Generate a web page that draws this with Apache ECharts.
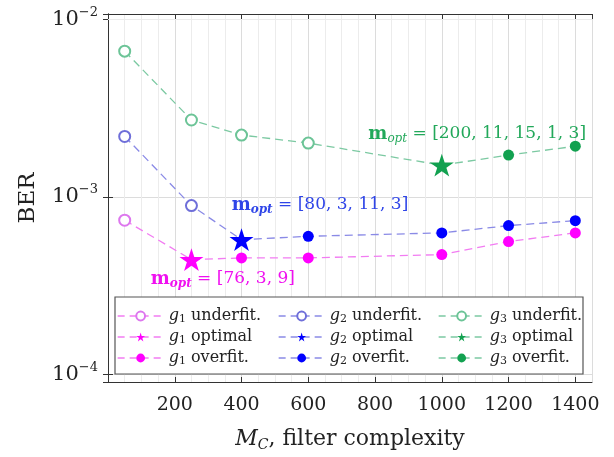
<!DOCTYPE html>
<html>
<head>
<meta charset="utf-8">
<script src="https://cdn.jsdelivr.net/npm/echarts@6/dist/echarts.min.js"></script>
<style>
  html, body { margin: 0; padding: 0; background: #fff; }
  #chart { width: 614px; height: 457px; }
</style>
</head>
<body>
<div id="chart"></div>
<script>
// filter complexity M_C
var mc = [50, 250, 400, 600, 1000, 1200, 1400];
// BER per output group
var berG1 = [7.4e-4, 4.44e-4, 4.54e-4, 4.54e-4, 4.74e-4, 5.61e-4, 6.28e-4];
var berG2 = [2.19e-3, 8.94e-4, 5.75e-4, 6.01e-4, 6.28e-4, 6.90e-4, 7.36e-4];
var berG3 = [6.61e-3, 2.71e-3, 2.23e-3, 2.01e-3, 1.51e-3, 1.72e-3, 1.93e-3];
// index of the optimal point in each group
var optIdx = [1, 2, 4];
var groupNames = ['g1', 'g2', 'g3'];
var optLabels = ['[76, 3, 9]', '[80, 3, 11, 3]', '[200, 11, 15, 1, 3]'];
var yMinor = [2e-4, 3e-4, 4e-4, 5e-4, 6e-4, 7e-4, 8e-4, 9e-4,
              2e-3, 3e-3, 4e-3, 5e-3, 6e-3, 7e-3, 8e-3, 9e-3];

var FONT = 'DejaVu Serif';
var STAR = 'path://M0,-1 L0.2245,-0.309 L0.951,-0.309 L0.363,0.118 L0.588,0.809 L0,0.382 L-0.588,0.809 L-0.363,0.118 L-0.951,-0.309 L-0.2245,-0.309 Z';

var lineCol = ['#f27cf2', '#8a8ae6', '#7cc9a2'];
var hollowCol = ['#dd77ee', '#6f6fd9', '#6cc497'];
var solidCol = ['#ff00ff', '#0000ff', '#12a150'];
var textCol = ['#f010f0', '#2f45e8', '#22a85a'];

var allBer = [berG1, berG2, berG3];
function pairs(ys, a, b) {
    var out = [];
    for (var i = a; i < b; i++) out.push([mc[i], ys[i]]);
    return out;
}

var annCoord = [[344, 3.46e-4], [635, 9.02e-4], [1106, 2.26e-3]];

var series = [];
allBer.forEach(function (ys, g) {
    var k = optIdx[g];
    series.push({
        name: groupNames[g] + ' line',
        type: 'line',
        data: pairs(ys, 0, ys.length),
        symbol: 'none',
        silent: true,
        z: 2,
        lineStyle: { color: lineCol[g], width: 1.3, type: [8, 5] },
        markPoint: {
            symbol: 'circle',
            symbolSize: 0,
            silent: true,
            label: {
                show: true,
                position: 'inside',
                color: textCol[g],
                fontFamily: FONT,
                fontSize: 17,
                formatter: '{m|m}{s|opt}{t| = ' + optLabels[g] + '}',
                rich: {
                    m: { fontWeight: 'bold', fontSize: 18, fontFamily: FONT, color: textCol[g] },
                    s: { fontStyle: 'italic', fontWeight: g < 2 ? 'bold' : 'normal', fontSize: 12, fontFamily: FONT, color: textCol[g], padding: [10, 0, 0, 0] },
                    t: { fontSize: 17, fontFamily: FONT, color: textCol[g] }
                }
            },
            data: [{ coord: annCoord[g] }]
        }
    });
    series.push({
        name: groupNames[g] + ' underfit.',
        type: 'line',
        data: pairs(ys, 0, k),
        symbol: 'emptyCircle',
        symbolSize: 11,
        z: 3,
        itemStyle: { color: hollowCol[g], borderWidth: 1.3 },
        lineStyle: { color: lineCol[g], width: 0, opacity: 0 }
    });
    series.push({
        name: groupNames[g] + ' optimal',
        type: 'line',
        data: pairs(ys, k, k + 1),
        symbol: STAR,
        symbolSize: 24,
        symbolKeepAspect: true,
        z: 4,
        itemStyle: { color: solidCol[g] },
        lineStyle: { color: lineCol[g], width: 0, opacity: 0 }
    });
    series.push({
        name: groupNames[g] + ' overfit.',
        type: 'line',
        data: pairs(ys, k + 1, ys.length),
        symbol: 'circle',
        symbolSize: 11,
        z: 3,
        itemStyle: { color: solidCol[g] },
        lineStyle: { color: lineCol[g], width: 0, opacity: 0 }
    });
});

// minor log grid lines
series.push({
    name: 'minor grid',
    type: 'line',
    data: [],
    silent: true,
    z: 0,
    markLine: {
        silent: true,
        symbol: ['none', 'none'],
        label: { show: false },
        lineStyle: { color: '#ececec', width: 1, type: 'solid' },
        data: yMinor.map(function (v) { return { yAxis: v }; })
    }
});

function legendFor(g, left) {
    return {
        orient: 'vertical',
        left: left,
        top: 303,
        itemWidth: 46,
        itemHeight: 11,
        itemGap: 4,
        z: 6,
        data: [groupNames[g] + ' underfit.', groupNames[g] + ' optimal', groupNames[g] + ' overfit.'],
        lineStyle: { opacity: 1, width: 1.3, type: [7, 5] },
        formatter: function (name) {
            return '{i|g}{s|' + name.charAt(1) + '}' + name.slice(2);
        },
        textStyle: {
            fontFamily: FONT,
            fontSize: 16,
            color: '#222',
            rich: {
                i: { fontStyle: 'italic', fontFamily: FONT, fontSize: 16, color: '#222' },
                s: { fontFamily: FONT, fontSize: 11, color: '#222', padding: [7, 0, 0, 0] }
            }
        }
    };
}

function yLabel(v) {
    var l = Math.log10(v);
    var e = Math.round(l);
    if (Math.abs(l - e) > 1e-6) return '';
    return '{b|10}{p|' + (e < 0 ? '\u2212' : '') + Math.abs(e) + '}';
}

var chart = echarts.init(document.getElementById('chart'));
chart.setOption({
    animation: false,
    backgroundColor: '#fff',
    grid: { left: 108, right: 22, top: 14, bottom: 73 },
    xAxis: [{
        type: 'value',
        min: 0,
        max: 1450,
        interval: 200,
        name: '{i|M}{s|C}{t|, filter complexity}',
        nameLocation: 'middle',
        nameGap: 44,
        nameTextStyle: {
            fontFamily: FONT, fontSize: 22, color: '#222',
            rich: {
                i: { fontStyle: 'italic', fontFamily: FONT, fontSize: 22, color: '#222' },
                s: { fontStyle: 'italic', fontFamily: FONT, fontSize: 14, color: '#222', padding: [12, 0, 0, 0] },
                t: { fontFamily: FONT, fontSize: 22, color: '#222' }
            }
        },
        axisLine: { show: true, lineStyle: { color: '#333', width: 1 } },
        axisTick: { show: true, inside: true, length: 5, lineStyle: { color: '#333' } },
        axisLabel: {
            fontFamily: FONT, fontSize: 19, color: '#222', margin: 14,
            showMinLabel: false, showMaxLabel: false,
            formatter: function (v) { return (v > 0 && v <= 1400) ? String(v) : ''; }
        },
        splitLine: { show: true, lineStyle: { color: '#dcdcdc', width: 1 } },
        minorTick: { show: false, splitNumber: 4 },
        minorSplitLine: { show: true, lineStyle: { color: '#ececec', width: 1 } }
    }, {
        type: 'value',
        position: 'top',
        min: 0,
        max: 1450,
        interval: 200,
        axisLine: { show: true, lineStyle: { color: '#333', width: 1 } },
        axisTick: { show: true, inside: true, length: 5, lineStyle: { color: '#333' } },
        axisLabel: { show: false },
        splitLine: { show: false }
    }],
    yAxis: [{
        type: 'log',
        logBase: 10,
        min: 9.1e-5,
        max: 1.07e-2,
        name: 'BER',
        nameLocation: 'middle',
        nameGap: 68,
        nameTextStyle: { fontFamily: FONT, fontSize: 23, color: '#222' },
        axisLine: { show: true, lineStyle: { color: '#333', width: 1 } },
        axisTick: { show: true, inside: true, length: 5, lineStyle: { color: '#333' } },
        axisLabel: {
            margin: 10,
            formatter: yLabel,
            rich: {
                b: { fontFamily: FONT, fontSize: 21, color: '#222' },
                p: { fontFamily: FONT, fontSize: 13, color: '#222', padding: [0, 0, 14, 0] }
            }
        },
        splitLine: { show: true, lineStyle: { color: '#dcdcdc', width: 1 } }
    }, {
        type: 'log',
        logBase: 10,
        min: 9.1e-5,
        max: 1.07e-2,
        position: 'right',
        axisLine: { show: true, lineStyle: { color: '#333', width: 1 } },
        axisTick: { show: true, inside: true, length: 5, lineStyle: { color: '#333' } },
        axisLabel: { show: false },
        splitLine: { show: false }
    }],
    legend: [legendFor(0, 112), legendFor(1, 273), legendFor(2, 433)],
    graphic: [{
        type: 'rect',
        z: 5,
        shape: { x: 115, y: 297, width: 468, height: 77 },
        style: { fill: '#fff', stroke: '#555', lineWidth: 1.2 }
    }],
    series: series
});
</script>
</body>
</html>
